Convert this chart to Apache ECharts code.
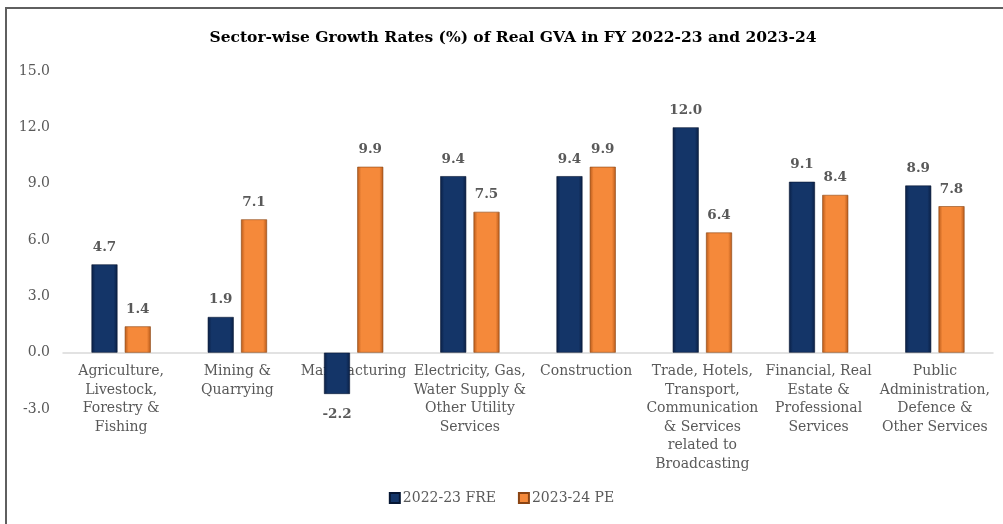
<!DOCTYPE html>
<html>
<head>
<meta charset="utf-8">
<script src="https://cdn.jsdelivr.net/npm/echarts@6/dist/echarts.min.js"></script>
<style>
    html, body { margin: 0; padding: 0; background: #fff; }
    #chart { width: 1003px; height: 524px; }
</style>
</head>
<body>
<div id="chart"></div>
<script>
// chart data
var categories = [
    'Agriculture,\nLivestock,\nForestry &\nFishing',
    'Mining &\nQuarrying',
    'Manufacturing',
    'Electricity, Gas,\nWater Supply &\nOther Utility\nServices',
    'Construction',
    'Trade, Hotels,\nTransport,\nCommunication\n& Services\nrelated to\nBroadcasting',
    'Financial, Real\nEstate &\nProfessional\nServices',
    'Public\nAdministration,\nDefence &\nOther Services'
]
var fre2223 = [4.7, 1.9, -2.2, 9.4, 9.4, 12.0, 9.1, 8.9]
var pe2324 = [1.4, 7.1, 9.9, 7.5, 9.9, 6.4, 8.4, 7.8]
var seriesNames = ['2022-23 FRE', '2023-24 PE']
var yTicks = { min: -3, max: 15, interval: 3 }

var FONT = '"DejaVu Serif", "Liberation Serif", serif'
var TXT = '#595959'

function bevel(edge, mid) {
    return new echarts.graphic.LinearGradient(0, 0, 1, 0, [
        { offset: 0, color: edge },
        { offset: 0.15, color: mid },
        { offset: 0.85, color: mid },
        { offset: 1, color: edge },
    ])
}

// negative values get their label under the bar
function toItems(values) {
    return values.map(function (v) {
        return {
            value: v,
            label: v < 0 ? { position: 'bottom', distance: 14 } : { position: 'top' },
        }
    })
}

var chart = echarts.init(document.getElementById('chart'))
var colors = [bevel('#0a1f44', '#143568'), bevel('#b85a1a', '#f5893a')]

var options = {
    animation: false,
    color: ['#143568', '#f5893a'],
    title: {
        text: 'Sector-wise Growth Rates (%) of Real GVA in FY 2022-23 and 2023-24',
        left: 508,
        textAlign: 'center',
        top: 25,
        textStyle: {
            fontFamily: FONT,
            fontSize: 15.5,
            fontWeight: 'bold',
            color: '#000',
        },
    },
    legend: {
        bottom: 14,
        left: 'center',
        itemWidth: 10,
        itemHeight: 10,
        itemGap: 22,
        icon: 'rect',
        textStyle: {
            fontFamily: FONT,
            fontSize: 14,
            color: TXT,
            padding: [0, 0, 0, -2],
        },
        data: seriesNames,
    },
    grid: {
        top: 71,
        bottom: 115,
        left: 63,
        right: 10,
        containLabel: false,
        outerBoundsMode: 'none',
    },
    xAxis: {
        type: 'category',
        data: categories,
        axisTick: { show: false },
        axisLine: {
            show: true,
            onZero: true,
            lineStyle: { color: '#d9d9d9', width: 1.5 },
        },
        axisLabel: {
            interval: 0,
            margin: -47,
            fontFamily: FONT,
            fontSize: 14,
            lineHeight: 18.6,
            color: TXT,
            verticalAlign: 'top',
        },
    },
    yAxis: {
        type: 'value',
        min: yTicks.min,
        max: yTicks.max,
        interval: yTicks.interval,
        splitLine: { show: false },
        axisTick: { show: false },
        axisLine: { show: false },
        axisLabel: {
            margin: 13,
            fontFamily: FONT,
            fontSize: 14,
            color: TXT,
            formatter: function (v) {
                return v.toFixed(1)
            },
        },
    },
    series: [fre2223, pe2324].map(function (vals, i) {
        return {
            name: seriesNames[i],
            type: 'bar',
            barWidth: 26,
            barGap: '28%',
            data: toItems(vals),
            itemStyle: {
                color: colors[i],
                borderColor: i === 0 ? '#061633' : '#8a4413',
                borderWidth: 0.6,
            },
            label: {
                show: true,
                distance: 10,
                fontFamily: FONT,
                fontSize: 13.5,
                fontWeight: 'bold',
                color: TXT,
                formatter: function (p) {
                    return p.value.toFixed(1)
                },
            },
        }
    }),
    graphic: [
        {
            type: 'rect',
            shape: { x: 6, y: 8, width: 1100, height: 600 },
            style: { fill: 'none', stroke: '#5f5f5f', lineWidth: 2 },
            silent: true,
        },
    ],
}

chart.setOption(options)
</script>
</body>
</html>
